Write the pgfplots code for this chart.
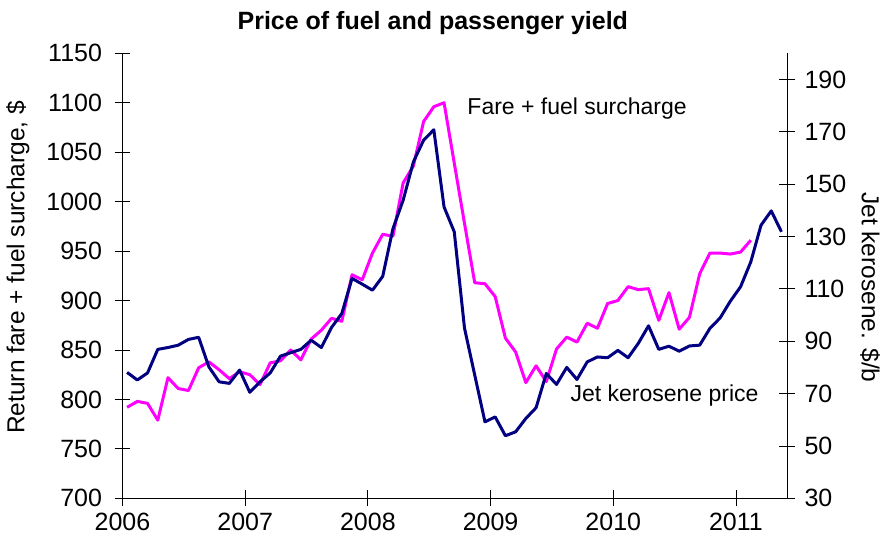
\documentclass[border=0pt]{standalone}
\usepackage{pgfplots}
\usepackage{pgfplotstable}
\pgfplotsset{compat=1.18}
\usepackage{fontspec}
\setmainfont{Liberation Sans}
\definecolor{faremag}{RGB}{255,0,255}
\definecolor{kernavy}{RGB}{0,0,128}

\pgfplotstableread{
i v
0 792
1 798
2 796
3 779
4 822
5 811
6 809
7 832
8 838
9 830
10 821
11 828
12 825
13 815
14 837
15 839
16 850
17 840
18 861
19 870
20 882
21 879
22 926
23 921
24 948
25 967
26 965
27 1019
28 1036
29 1081
30 1096
31 1100
32 1039
33 978
34 918
35 917
36 904
37 862
38 848
39 817
40 834
41 818
42 851
43 863
44 858
45 877
46 872
47 897
48 900
49 914
50 911
51 912
52 880
53 908
54 871
55 883
56 927
57 948
58 948
59 947
60 949
61 961
}\faredata

\pgfplotstableread{
i v
0 78.1
1 75.2
2 77.9
3 86.9
4 87.6
5 88.5
6 90.7
7 91.5
8 80.2
9 74.5
10 73.9
11 79.0
12 70.5
13 74.5
14 77.9
15 84.3
16 85.6
17 86.9
18 90.4
19 87.6
20 95.3
21 100.6
22 114.0
23 111.8
24 109.5
25 114.8
26 133.0
27 143.9
28 158.5
29 166.8
30 170.8
31 141.3
32 131.8
33 95.0
34 77.1
35 59.2
36 61.1
37 53.9
38 55.4
39 60.5
40 64.6
41 77.7
42 73.5
43 80.0
44 75.4
45 82.1
46 84.0
47 83.7
48 86.5
49 83.7
50 89.2
51 95.9
52 86.9
53 88.1
54 86.2
55 88.2
56 88.5
57 94.9
58 98.9
59 105.3
60 110.8
61 120.3
62 134.3
63 139.8
64 131.8
}\kerodata

\newcommand{\tickfont}{\fontsize{25pt}{29pt}\selectfont}
\newcommand{\labfont}{\fontsize{24.5pt}{28pt}\selectfont}
\newcommand{\annfont}{\fontsize{23pt}{27pt}\selectfont}

\begin{document}
\begin{tikzpicture}
\path[use as bounding box] (-122.5pt,-48.7pt) rectangle (759.5pt,498.3pt);
\pgfplotsset{
  base/.style={
    width=664.5pt, height=445pt, scale only axis,
    xmin=2006, xmax=2011.416,
    tick align=center, major tick length=16pt,
    tick style={black, line width=0.8pt},
    axis line style={black, line width=0.8pt, -},
    tick label style={font=\tickfont},
    /pgf/number format/assume math mode=true,
    /pgf/number format/1000 sep={},
    clip=false,
  }
}
\begin{axis}[base,
  at={(0pt,0pt)}, anchor=south west,
  ymin=700, ymax=1150,
  axis x line*=bottom, axis y line*=left,
  xtick={2006,2007,2008,2009,2010,2011},
  ytick={700,750,...,1150},
  yticklabel style={xshift=-9pt},
  xticklabel style={yshift=-3pt},
  ylabel={Return fare + fuel surcharge, \$},
  ylabel style={font=\labfont, at={(axis description cs:-0.1573,0.519)}, anchor=center},
  title={Price of fuel and passenger yield},
  title style={font=\bfseries\tickfont, at={(axis description cs:0.467,1)}, anchor=center, yshift=24pt},
]
\addplot[faremag, line width=3pt, line join=round] table[x expr={2006+(\thisrow{i}+0.45)/12}, y=v] {\faredata};
\node[anchor=base west, inner sep=0pt, font=\annfont] at (axis cs:2008.81,1088) {Fare + fuel surcharge};
\node[anchor=base west, inner sep=0pt, font=\annfont] at (axis cs:2009.65,798) {Jet kerosene price};
\end{axis}
\begin{axis}[base,
  at={(0pt,0pt)}, anchor=south west,
  ymin=30, ymax=200,
  axis y line*=right, axis x line=none,
  ytick={30,50,...,190},
  yticklabel style={xshift=6pt},
  ylabel={Jet kerosene. \$/b},
  ylabel style={font=\labfont, at={(axis description cs:1.1249,0.474)}, anchor=center, rotate=180},
]
\addplot[kernavy, line width=3pt, line join=round] table[x expr={2006+(\thisrow{i}+0.45)/12}, y=v] {\kerodata};
\end{axis}
\end{tikzpicture}
\end{document}
